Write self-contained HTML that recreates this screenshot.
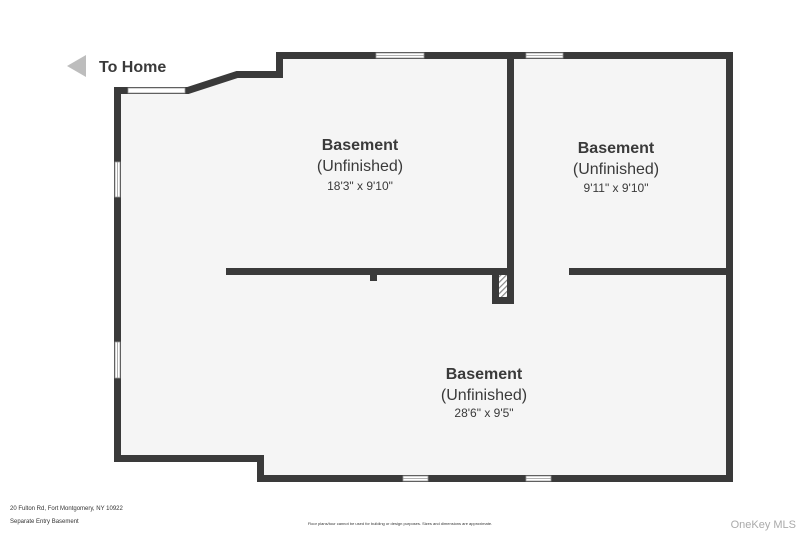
<!DOCTYPE html>
<html><head><style>
body{margin:0;background:#fff;width:800px;height:534px;overflow:hidden;font-family:"Liberation Sans",sans-serif}
svg{display:block}
</style></head><body>
<svg width="800" height="534" viewBox="0 0 800 534" xmlns="http://www.w3.org/2000/svg">
<defs>
<pattern id="h" width="4" height="4" patternUnits="userSpaceOnUse" patternTransform="rotate(45)">
<rect width="4" height="4" fill="#fff"/><rect width="1.2" height="4" fill="#888"/>
</pattern>
</defs>
<polygon points="67,66 86,55 86,77" fill="#bdbdbd"/>
<text x="99" y="72" font-size="16" font-weight="bold" fill="#3a3a3a">To Home</text>
<path d="M117.5,90.5 L188,90.5 L237,74.5 L279.5,74.5 L279.5,55.5 L729.5,55.5 L729.5,478.5 L260.5,478.5 L260.5,458.5 L117.5,458.5 Z" fill="#f5f5f5" stroke="#3a3a3a" stroke-width="7" stroke-linejoin="miter"/>
<g fill="#3a3a3a">
<rect x="507" y="52" width="7" height="224"/>
<rect x="226" y="268" width="288" height="7"/>
<rect x="569" y="268" width="164" height="7"/>
<rect x="492" y="268" width="22" height="36"/>
<rect x="370" y="275" width="7" height="6"/>
</g>
<rect x="499" y="275" width="8" height="22" fill="url(#h)"/>
<g fill="#fff" stroke="#999" stroke-width="0.8">
<rect x="128" y="88" width="57" height="5"/>
<rect x="376" y="53" width="48" height="5"/><line x1="376" y1="55.5" x2="424" y2="55.5"/>
<rect x="526" y="53" width="37" height="5"/><line x1="526" y1="55.5" x2="563" y2="55.5"/>
<rect x="115" y="162" width="5" height="35"/><line x1="117.5" y1="162" x2="117.5" y2="197"/>
<rect x="115" y="342" width="5" height="36"/><line x1="117.5" y1="342" x2="117.5" y2="378"/>
<rect x="403" y="476" width="25" height="5"/><line x1="403" y1="478.5" x2="428" y2="478.5"/>
<rect x="526" y="476" width="25" height="5"/><line x1="526" y1="478.5" x2="551" y2="478.5"/>
</g>
<g fill="#3a3a3a" text-anchor="middle" font-family="Liberation Sans, sans-serif">
<text x="360" y="150" font-size="16" font-weight="bold">Basement</text>
<text x="360" y="171" font-size="16">(Unfinished)</text>
<text x="360" y="190" font-size="12">18'3" x 9'10"</text>
<text x="616" y="153" font-size="16" font-weight="bold">Basement</text>
<text x="616" y="174" font-size="16">(Unfinished)</text>
<text x="616" y="192" font-size="12">9'11" x 9'10"</text>
<text x="484" y="379" font-size="16" font-weight="bold">Basement</text>
<text x="484" y="400" font-size="16">(Unfinished)</text>
<text x="484" y="417" font-size="12">28'6" x 9'5"</text>
</g>
<text x="10" y="510" font-size="6" fill="#333">20 Fulton Rd, Fort Montgomery, NY 10922</text>
<text x="10" y="523" font-size="6" fill="#333">Separate Entry Basement</text>
<text x="400" y="525" font-size="4" fill="#333" text-anchor="middle">Floor plans/tour cannot be used for building or design purposes. Sizes and dimensions are approximate.</text>
<text x="796" y="528" font-size="11" fill="#aaa" text-anchor="end">OneKey MLS</text>
</svg>
</body></html>
